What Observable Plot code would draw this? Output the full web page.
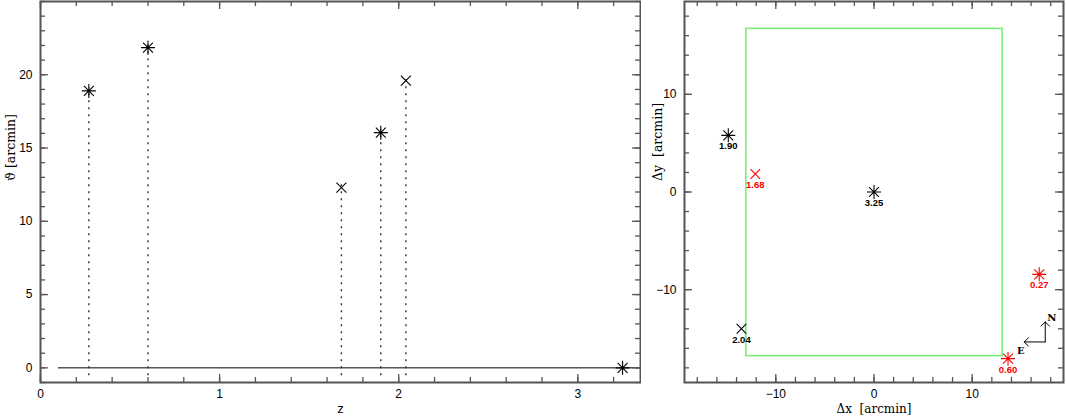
<!DOCTYPE html>
<html><head><meta charset="utf-8">
<script src="https://cdn.jsdelivr.net/npm/d3@7"></script>
<script src="https://cdn.jsdelivr.net/npm/@observablehq/plot@0.6"></script>
<style>
body{margin:0;background:#fff}
#wrap{display:flex;width:1066px;height:419px;background:#fff}
#wrap svg{display:block}
</style></head><body><div id="wrap"></div>
<script>
// ---------- data ----------
const zValues      = [0.27, 0.60, 1.68, 1.90, 2.04, 3.25];
const thetaValues  = [18.9, 21.85, 12.3, 16.05, 19.6, 0];
const leftShapes   = ["asterisk","asterisk","cross","asterisk","cross","asterisk"];

const posLabels = ["1.90","1.68","3.25","2.04","0.60","0.27"];
const dxValues  = [-14.84, -12.09, 0, -13.5, 13.65, 16.83];
const dyValues  = [5.8, 1.84, 0, -14.0, -17.06, -8.43];
const posColors = ["#000000","#ff0000","#000000","#000000","#ff0000","#ff0000"];
const posShapes = ["asterisk","cross","asterisk","cross","asterisk","asterisk"];

const fieldX = [-13.0, 13.1];
const fieldY = [-16.8, 16.7];

const compassOrigin = [17.44, -15.35];
const compassN = [17.44, -13.3];
const compassE = [15.3, -15.35];
const compassLabels = ["N","E"];
const compassLabelPos = [[18.1, -12.9], [14.95, -16.3]];

const leftXTicks = [0, 1, 2, 3];
const leftYTicks = [0, 5, 10, 15, 20];
const rightTicks = [-10, 0, 10];

// ---------- symbols ----------
const asterisk8 = {draw(ctx, size) {
  const r = Math.sqrt(size / Math.PI), d = r * Math.SQRT1_2;
  ctx.moveTo(-r, 0); ctx.lineTo(r, 0);
  ctx.moveTo(0, -r); ctx.lineTo(0, r);
  ctx.moveTo(-d, -d); ctx.lineTo(d, d);
  ctx.moveTo(-d, d); ctx.lineTo(d, -d);
}};
const crossX = {draw(ctx, size) {
  const r = Math.sqrt(size / Math.PI);
  ctx.moveTo(-r, -r); ctx.lineTo(r, r);
  ctx.moveTo(-r, r); ctx.lineTo(r, -r);
}};

const fmt = d => d < 0 ? "−" + (-d) : String(d);

const H = 419, MT = 1, MB = 37;
const innerH = H - MT - MB;
const frameColor = "#555";
const tickColor = "#555";
const sans = "Liberation Sans, Arial, sans-serif";
const serif = "DejaVu Serif, serif";

function frameTicks(xMinor, xMajor, yMinor, yMajor, innerW) {
  const marks = [];
  const minorL = 5, majorL = 8;
  for (const [vals, L] of [[xMinor, minorL], [xMajor, majorL]]) {
    marks.push(Plot.tickX(vals, {x: d => d, stroke: tickColor, strokeWidth: 1.3, insetTop: innerH - L}));
    marks.push(Plot.tickX(vals, {x: d => d, stroke: tickColor, strokeWidth: 1.3, insetBottom: innerH - L}));
  }
  for (const [vals, L] of [[yMinor, minorL], [yMajor, majorL]]) {
    marks.push(Plot.tickY(vals, {y: d => d, stroke: tickColor, strokeWidth: 1.3, insetRight: innerW - L}));
    marks.push(Plot.tickY(vals, {y: d => d, stroke: tickColor, strokeWidth: 1.3, insetLeft: innerW - L}));
  }
  return marks;
}

// ---------- left panel ----------
const left = zValues.map((z, i) => ({z, theta: thetaValues[i], shape: leftShapes[i]}));
const LW = 641, LML = 40, LMR = 1;
const leftX = [0, 3.35], leftY = [-1, 25];

const leftPlot = Plot.plot({
  width: LW, height: H,
  marginLeft: LML, marginRight: LMR, marginTop: MT, marginBottom: MB,
  x: {domain: leftX, label: null},
  y: {domain: leftY, label: null},
  style: {fontFamily: sans, fontSize: "12px", background: "#fff", color: "#000"},
  marks: [
    Plot.ruleY([0], {x1: 0.1, x2: 3.35, stroke: "#000", strokeWidth: 1}),
    Plot.ruleX(left.filter(d => d.theta > 0), {x: "z", y1: d => 0, y2: "theta", insetTop: 8, insetBottom: 3, stroke: "#333", strokeWidth: 1.4, strokeDasharray: "2,5"}),
    Plot.dot(left.filter(d => d.shape === "asterisk"), {x: "z", y: "theta", symbol: asterisk8, r: 7, fill: "none", stroke: "#000", strokeWidth: 1.1}),
    Plot.dot(left.filter(d => d.shape === "cross"), {x: "z", y: "theta", symbol: crossX, r: 5, fill: "none", stroke: "#000", strokeWidth: 1.1}),
    ...frameTicks(d3.range(0, 3.35, 0.2).map(v => +v.toFixed(1)), leftXTicks, d3.range(-1, 26, 1), leftYTicks, LW - LML - LMR),
    Plot.axisX({ticks: leftXTicks, tickSize: 0, tickPadding: 7, tickFormat: fmt, label: null}),
    Plot.axisY({ticks: leftYTicks, tickSize: 0, tickPadding: 8, tickFormat: fmt, label: null}),
    Plot.frame({stroke: frameColor, strokeWidth: 2}),
    Plot.text(["z"], {frameAnchor: "bottom", dy: 30, fontFamily: sans, fontSize: 13}),
    Plot.text(["ϑ [arcmin]"], {frameAnchor: "left", dx: -30, dy: -11, rotate: -90, fontFamily: serif, fontSize: 12.5})
  ]
});

// ---------- right panel ----------
const pos = posLabels.map((label, i) => ({label, x: dxValues[i], y: dyValues[i], color: posColors[i], shape: posShapes[i]}));
const RW = 425, RML = 43, RMR = 3;

const rightPlot = Plot.plot({
  width: RW, height: H,
  marginLeft: RML, marginRight: RMR, marginTop: MT, marginBottom: MB,
  x: {domain: [-19.3, 19.3], label: null},
  y: {domain: [-19.5, 19.5], label: null},
  style: {fontFamily: sans, fontSize: "12px", background: "#fff", color: "#000"},
  marks: [
    Plot.rect([{x1: fieldX[0], x2: fieldX[1], y1: fieldY[0], y2: fieldY[1]}], {x1: "x1", x2: "x2", y1: "y1", y2: "y2", fill: "none", stroke: "#78f078", strokeWidth: 1.6}),
    Plot.dot(pos.filter(d => d.shape === "asterisk"), {x: "x", y: "y", symbol: asterisk8, r: 7, fill: "none", stroke: "color", strokeWidth: 1.1}),
    Plot.dot(pos.filter(d => d.shape === "cross"), {x: "x", y: "y", symbol: crossX, r: 4.8, fill: "none", stroke: "color", strokeWidth: 1.1}),
    Plot.text(pos, {x: "x", y: "y", text: "label", fill: "color", dy: 11, fontSize: 9.5, fontWeight: "bold", fontFamily: sans}),
    Plot.arrow([{x1: compassOrigin[0], y1: compassOrigin[1], x2: compassN[0], y2: compassN[1]}, {x1: compassOrigin[0], y1: compassOrigin[1], x2: compassE[0], y2: compassE[1]}],
      {x1: "x1", y1: "y1", x2: "x2", y2: "y2", stroke: "#000", strokeWidth: 1, headLength: 9, headAngle: 90}),
    Plot.text(compassLabels.map((t, i) => ({t, x: compassLabelPos[i][0], y: compassLabelPos[i][1]})), {x: "x", y: "y", text: "t", fontFamily: serif, fontWeight: "bold", fontSize: 10}),
    ...frameTicks(d3.range(-18, 19, 2), rightTicks, d3.range(-18, 19, 2), rightTicks, RW - RML - RMR),
    Plot.axisX({ticks: rightTicks, tickSize: 0, tickPadding: 7, tickFormat: fmt, label: null}),
    Plot.axisY({ticks: rightTicks, tickSize: 0, tickPadding: 8, tickFormat: fmt, label: null}),
    Plot.frame({stroke: frameColor, strokeWidth: 2}),
    Plot.text(["Δx  [arcmin]"], {frameAnchor: "bottom", dy: 30, fontFamily: serif, fontSize: 12}),
    Plot.text(["Δy  [arcmin]"], {frameAnchor: "left", dx: -27, dy: -11, rotate: -90, fontFamily: serif, fontSize: 12.5})
  ]
});

const wrap = document.getElementById("wrap");
wrap.appendChild(leftPlot);
wrap.appendChild(rightPlot);
</script>
</body></html>
